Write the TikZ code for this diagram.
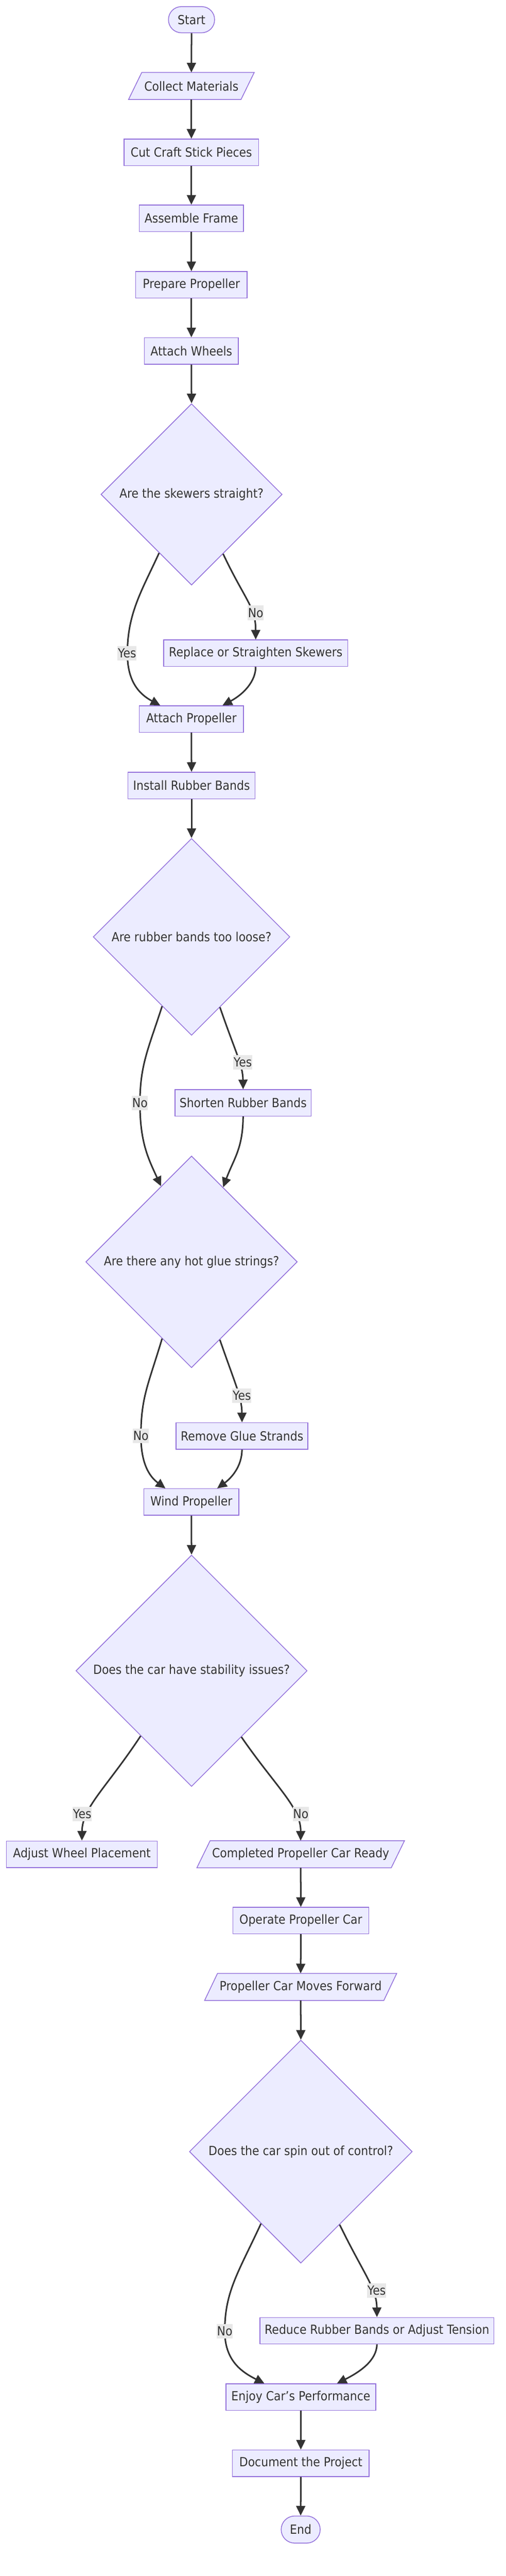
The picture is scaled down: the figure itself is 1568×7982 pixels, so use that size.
\documentclass[tikz,border=0pt]{standalone}
\usepackage{fontspec}
\setmainfont{DejaVu Sans}[FakeStretch=0.9]
\usetikzlibrary{arrows.meta,calc,shapes.geometric,backgrounds}
\definecolor{nodefill}{HTML}{ECECFF}
\definecolor{nodeline}{HTML}{9370DB}
\definecolor{ink}{HTML}{333333}
\definecolor{lblbg}{HTML}{E8E8E8}
\tikzset{
  base/.style={font=\fontsize{19.5pt}{23pt}\selectfont, text=ink, inner sep=0pt},
  box/.style={base, rectangle, draw=nodeline, fill=nodefill, line width=1.2pt, minimum height=41pt, minimum width=#1*0.5pt},
  term/.style={box=#1, rounded corners=20pt},
  paranode/.style={base, rectangle, minimum height=41.5pt, minimum width=#1*0.5pt},
  parashape/.style={draw=nodeline, fill=nodefill, line width=1.2pt},
  decision/.style={base, diamond, aspect=1, draw=nodeline, fill=nodefill, line width=1.2pt, minimum width=#1*0.5pt, minimum height=#1*0.5pt},
  edge/.style={draw=ink, line width=2.4pt, -{Triangle[length=15pt,width=14pt]}},
  lbl/.style={base, fill=lblbg, inner xsep=0.5pt, inner ysep=0pt, minimum height=22.5pt},
}
\begin{document}
\begin{tikzpicture}[x=0.5pt, y=-0.5pt]
\begin{scope}[on background layer]
\fill[white] (0,0) rectangle (1568,7982);
\end{scope}
\useasboundingbox (0,0) rectangle (1568,7982);

% nodes
\node[term=143, minimum height=40.5pt] (start) at (594,61) {Start};
\node[paranode=389] (collect) at (593.5,266.5) {Collect Materials};
\node[box=417] (cut) at (593.5,472) {Cut Craft Stick Pieces};
\node[box=323] (assemble) at (593.5,676.5) {Assemble Frame};
\node[box=345] (prepare) at (593.5,882.5) {Prepare Propeller};
\node[box=291] (wheels) at (593.5,1087.5) {Attach Wheels};
\node[decision=562] (d1) at (594,1532) {Are the skewers straight?};
\node[box=570] (replace) at (793,2024) {Replace or Straighten Skewers};
\node[box=323] (attachprop) at (593.5,2228) {Attach Propeller};
\node[box=394] (install) at (594,2434) {Install Rubber Bands};
\node[decision=610] (d2) at (594,2903) {Are rubber bands too loose?};
\node[box=422] (shorten) at (754,3417.5) {Shorten Rubber Bands};
\node[decision=656] (d3) at (594,3910) {Are there any hot glue strings?};
\node[box=409] (remove) at (750.5,4449.5) {Remove Glue Strands};
\node[box=295] (wind) at (593.5,4654) {Wind Propeller};
\node[decision=717] (d4) at (594,5177) {Does the car have stability issues?};
\node[box=468] (adjust) at (254,5745.5) {Adjust Wheel Placement};
\node[paranode=643] (completed) at (932.5,5745.5) {Completed Propeller Car Ready};
\node[box=422] (operate) at (933,5951) {Operate Propeller Car};
\node[paranode=595] (moves) at (932.5,6156.5) {Propeller Car Moves Forward};
\node[decision=691] (d5) at (933,6667) {Does the car spin out of control?};
\node[box=726] (reduce) at (1169,7222) {Reduce Rubber Bands or Adjust Tension};
\node[box=464] (enjoy) at (933,7427.5) {Enjoy Car's Performance};
\node[box=424] (document) at (933,7632.5) {Document the Project};
\node[term=121, minimum height=42pt, rounded corners=21pt] (end) at (932.5,7838) {End};

% parallelogram outlines
\begin{scope}[on background layer]
\filldraw[parashape] (collect.south west) -- ($(collect.north west)+(41,0)$) -- (collect.north east) -- ($(collect.south east)+(-41,0)$) -- cycle;
\filldraw[parashape] (completed.south west) -- ($(completed.north west)+(41,0)$) -- (completed.north east) -- ($(completed.south east)+(-41,0)$) -- cycle;
\filldraw[parashape] (moves.south west) -- ($(moves.north west)+(40,0)$) -- (moves.north east) -- ($(moves.south east)+(-40,0)$) -- cycle;
\end{scope}

% straight connectors
\draw[edge] (start.south) -- (collect.north);
\draw[edge] (collect.south) -- (cut.north);
\draw[edge] (cut.south) -- (assemble.north);
\draw[edge] (assemble.south) -- (prepare.north);
\draw[edge] (prepare.south) -- (wheels.north);
\draw[edge] (wheels.south) -- (d1.north);
\draw[edge] (attachprop.south) -- (install.north);
\draw[edge] (install.south) -- (d2.north);
\draw[edge] (wind.south) -- (d4.north);
\draw[edge] (completed.south) -- (operate.north);
\draw[edge] (operate.south) -- (moves.north);
\draw[edge] (moves.south) -- (d5.north);
\draw[edge] (enjoy.south) -- (document.north);
\draw[edge] (document.south) -- (end.north);

% decision 1
\draw[edge] (d1.241.5) .. controls (440,1830) and (395,1900) .. (395,2025) .. controls (395,2110) and (430,2150) .. ($(attachprop.north)+(-96.5,0)$);
\draw[edge] (d1.298.5) .. controls (760,1860) and (793,1880) .. (replace.north);
\draw[edge] (replace.south) .. controls (793,2110) and (757,2150) .. ($(attachprop.north)+(96.5,0)$);

% decision 2
\draw[edge] (d2.247.7) .. controls (460,3250) and (434,3300) .. (434,3418) .. controls (434,3540) and (460,3590) .. (d3.112.5);
\draw[edge] (d2.292.3) .. controls (730,3260) and (753,3300) .. (shorten.north);
\draw[edge] (shorten.south) .. controls (753,3560) and (725,3590) .. (d3.67.5);

% decision 3
\draw[edge] (d3.249.5) .. controls (460,4290) and (437,4330) .. (437,4449) .. controls (437,4545) and (470,4580) .. ($(wind.north)+(-80.5,0)$);
\draw[edge] (d3.290.7) .. controls (730,4290) and (750,4330) .. (remove.north);
\draw[edge] (remove.south) .. controls (750,4545) and (717,4580) .. ($(wind.north)+(80,0)$);

% decision 4
\draw[edge] (d4.232.9) .. controls (330,5540) and (255,5600) .. (adjust.north);
\draw[edge] (d4.307.1) .. controls (858,5540) and (933,5600) .. (completed.north);

% decision 5
\draw[edge] (d5.241.3) .. controls (740,7040) and (697,7100) .. (697,7223) .. controls (697,7315) and (750,7350) .. ($(enjoy.north)+(-113,0)$);
\draw[edge] (d5.298.9) .. controls (1130,7050) and (1168,7090) .. (reduce.north);
\draw[edge] (reduce.south) .. controls (1168,7315) and (1115,7350) .. ($(enjoy.north)+(112,0)$);

% edge labels
\node[lbl] (l1) at (394,2024) {Yes};
\node[lbl] (l2) at (793,1899) {No};
\node[lbl] (l3) at (434,3418) {No};
\node[lbl] (l4) at (753,3292) {Yes};
\node[lbl] (l5) at (437,4449) {No};
\node[lbl] (l6) at (750,4324) {Yes};
\node[lbl] (l7) at (255,5621) {Yes};
\node[lbl] (l8) at (933,5621) {No};
\node[lbl] (l9) at (697,7223) {No};
\node[lbl] (l10) at (1168,7097) {Yes};
\end{tikzpicture}
\end{document}
